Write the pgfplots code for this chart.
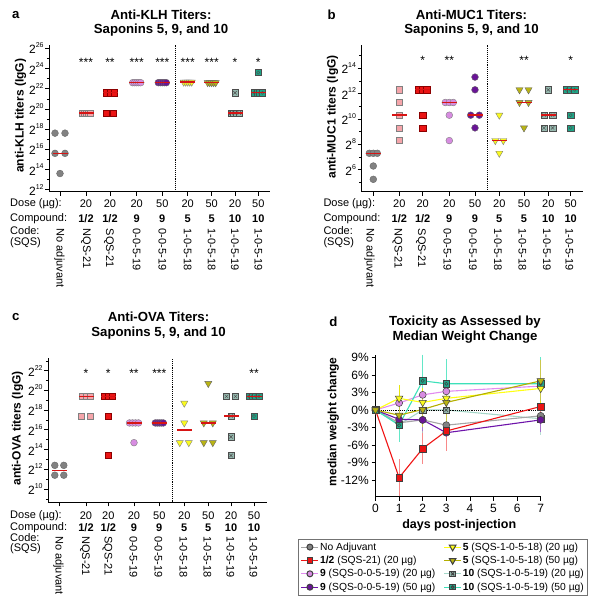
\documentclass[border=0pt]{standalone}
\usepackage{fontspec}
\setmainfont{Liberation Sans}
\usepackage{pgfplots}
\pgfplotsset{compat=1.18}

\definecolor{cGray}{RGB}{130,130,130}
\definecolor{cPink}{RGB}{245,165,170}
\definecolor{cRed}{RGB}{235,20,20}
\definecolor{cViolet}{RGB}{215,140,225}
\definecolor{cPurple}{RGB}{105,20,150}
\definecolor{cYellow}{RGB}{250,250,30}
\definecolor{cOlive}{RGB}{185,180,20}
\definecolor{cTealGray}{RGB}{150,185,175}
\definecolor{cTeal}{RGB}{30,165,135}
\definecolor{cMed}{RGB}{215,20,20}
\definecolor{lGray}{RGB}{165,165,165}
\definecolor{lRed}{RGB}{240,20,20}
\definecolor{lViolet}{RGB}{225,140,240}
\definecolor{lPurple}{RGB}{110,20,170}
\definecolor{lYellow}{RGB}{255,255,20}
\definecolor{lOlive}{RGB}{180,175,0}
\definecolor{lTealGray}{RGB}{165,215,200}
\definecolor{lTeal}{RGB}{60,225,185}

\pgfdeclareplotmark{sqx}{%
  \pgfpathrectangle{\pgfqpoint{-\pgfplotmarksize}{-\pgfplotmarksize}}{\pgfqpoint{2\pgfplotmarksize}{2\pgfplotmarksize}}%
  \pgfusepathqfillstroke
  \pgfpathmoveto{\pgfqpoint{-0.55\pgfplotmarksize}{-0.55\pgfplotmarksize}}%
  \pgfpathlineto{\pgfqpoint{0.55\pgfplotmarksize}{0.55\pgfplotmarksize}}%
  \pgfpathmoveto{\pgfqpoint{-0.55\pgfplotmarksize}{0.55\pgfplotmarksize}}%
  \pgfpathlineto{\pgfqpoint{0.55\pgfplotmarksize}{-0.55\pgfplotmarksize}}%
  \pgfusepathqstroke}
\pgfdeclareplotmark{sqo}{%
  \pgfpathrectangle{\pgfqpoint{-\pgfplotmarksize}{-\pgfplotmarksize}}{\pgfqpoint{2\pgfplotmarksize}{2\pgfplotmarksize}}%
  \pgfusepathqfillstroke
  \pgfpathcircle{\pgfpointorigin}{0.5\pgfplotmarksize}%
  \pgfusepathqstroke}

\newcommand{\pw}[1]{2\raisebox{0.52em}{\fontsize{7}{7}\selectfont #1}}

\pgfplotsset{
  panel/.style={
    scale only axis, clip=false, anchor=south west,
    axis lines*=left,
    axis line style={line width=0.9pt},
    tick align=outside,
    major tick length=4pt, minor tick length=2.5pt,
    every tick/.append style={line width=0.8pt, black},
    every minor tick/.append style={line width=0.6pt},
    ticklabel style={font=\fontsize{12}{12}\selectfont},
    yticklabel style={inner sep=1.5pt},
    xticklabels={},
  },
  mG/.style={only marks, mark=*, mark size=3.4pt, mark options={fill=cGray, draw=black!60, line width=0.4pt}},
  mPk/.style={only marks, mark=square*, mark size=3.1pt, mark options={fill=cPink, draw=black!50, line width=0.4pt}},
  mR/.style={only marks, mark=square*, mark size=3.1pt, mark options={fill=cRed, draw=red!55!black, line width=0.4pt}},
  mV/.style={only marks, mark=*, mark size=3.4pt, mark options={fill=cViolet, draw=black!50, line width=0.4pt}},
  mP/.style={only marks, mark=*, mark size=3.4pt, mark options={fill=cPurple, draw=black!60, line width=0.4pt}},
  mY/.style={only marks, mark=triangle*, mark size=4.1pt, mark options={rotate=180, fill=cYellow, draw=black!50, line width=0.4pt}},
  mO/.style={only marks, mark=triangle*, mark size=4.1pt, mark options={rotate=180, fill=cOlive, draw=black!60, line width=0.4pt}},
  mTX/.style={only marks, mark=sqx, mark size=3.1pt, mark options={fill=cTealGray, draw=black!70, line width=0.4pt}},
  mTO/.style={only marks, mark=sqo, mark size=3.1pt, mark options={fill=cTeal, draw=black!70, line width=0.4pt}},
  med/.style={only marks, mark=-, mark size=7.5pt, mark options={draw=cMed, line width=1.4pt}},
  ebar/.style={error bars/.cd, y dir=both, y explicit,
    error bar style={#1, line width=0.6pt},
    error mark options={#1, mark size=3pt, line width=0.6pt}},
}
\tikzset{
  fR/.style={font=\fontsize{11}{12}\selectfont, inner sep=0pt},
  fB/.style={font=\bfseries\fontsize{11}{12}\selectfont, inner sep=0pt},
  fC/.style={font=\fontsize{11}{12}\selectfont, inner sep=0pt, rotate=-90, anchor=west},
  fT/.style={font=\bfseries\fontsize{13.2}{15}\selectfont, inner sep=0pt},
  fY/.style={font=\bfseries\fontsize{12}{14}\selectfont, inner sep=0pt, rotate=90},
  stx/.style={font=\fontsize{12}{12}\selectfont, inner sep=0pt},
}

\begin{document}
\begin{tikzpicture}
\useasboundingbox (0,0) rectangle (601pt,-608pt);

% ---------------- Panel a ----------------
\begin{axis}[panel, at={(49.3pt,-191.7pt)}, width=220.7pt, height=146.7pt,
  xmin=49.3, xmax=270, ymin=11.8, ymax=26.33,
  xtick={60,86,110,136.7,162.3,187.7,211.7,235,258.3},
  ytick={12,14,...,26}, minor ytick={13,15,...,25},
  yticklabels={\pw{12},\pw{14},\pw{16},\pw{18},\pw{20},\pw{22},\pw{24},\pw{26}}]
\addplot[mG] coordinates {(55,17.6)(65,17.6)(55,15.6)(65,15.6)(60,13.6)};
\addplot[mPk] coordinates {(82,19.6)(84,19.6)(86,19.6)(88,19.6)(90,19.6)};
\addplot[mR] coordinates {(106,21.6)(110,21.6)(114,21.6)(106,19.6)(113.5,19.6)};
\addplot[mV] coordinates {(132.7,22.6)(134.7,22.6)(136.7,22.6)(138.7,22.6)(140.7,22.6)};
\addplot[mP] coordinates {(158.3,22.6)(160.3,22.6)(162.3,22.6)(164.3,22.6)(166.3,22.6)};
\addplot[mY] coordinates {(183.7,22.65)(185.7,22.65)(187.7,22.65)(189.7,22.65)(191.7,22.65)};
\addplot[mO] coordinates {(207.7,22.6)(209.7,22.6)(211.7,22.6)(213.7,22.6)(215.7,22.6)};
\addplot[mTX] coordinates {(230.8,19.6)(233.6,19.6)(236.4,19.6)(239.2,19.6)(235,21.6)};
\addplot[mTO] coordinates {(254.1,21.6)(256.9,21.6)(259.7,21.6)(262.5,21.6)(258.3,23.6)};
\addplot[med] coordinates {(60,15.6)(86,19.6)(110,21.6)(136.7,22.6)(162.3,22.6)(187.7,22.65)(211.7,22.6)(235,19.6)(258.3,21.6)};
\draw[densely dotted, line width=0.9pt] (axis cs:175.7,11.8) -- (axis cs:175.7,26.33);
\node[stx] at (axis cs:86,24.6) {***};
\node[stx] at (axis cs:110,24.6) {**};
\node[stx] at (axis cs:136.7,24.6) {***};
\node[stx] at (axis cs:162.3,24.6) {***};
\node[stx] at (axis cs:187.7,24.6) {***};
\node[stx] at (axis cs:211.7,24.6) {***};
\node[stx] at (axis cs:235,24.6) {*};
\node[stx] at (axis cs:258.3,24.6) {*};
\end{axis}

% ---------------- Panel b ----------------
\begin{axis}[panel, at={(361.7pt,-191.7pt)}, width=221.3pt, height=146.7pt,
  xmin=361.7, xmax=583, ymin=4.276, ymax=15.827,
  xtick={373.3,399.3,422.7,449.3,475,499.3,524,548.3,570.7},
  ytick={6,8,...,14}, minor ytick={5,7,...,15},
  yticklabels={\pw{6},\pw{8},\pw{10},\pw{12},\pw{14}}]
\addplot[mG] coordinates {(369.3,7.3)(373.3,7.3)(377.3,7.3)(373.3,6.3)(373.3,5.25)};
\addplot[mPk] coordinates {(399.3,12.3)(399.3,11.3)(399.3,10.3)(399.3,9.3)(399.3,8.3)};
\addplot[mR] coordinates {(418.7,12.3)(422.7,12.3)(426.7,12.3)(422.7,10.3)(422.7,9.3)};
\addplot[mV] coordinates {(445.3,11.3)(449.3,11.3)(453.3,11.3)(449.3,10.3)(449.3,8.3)};
\addplot[mP] coordinates {(475,13.3)(475,12.3)(470.7,10.3)(479.3,10.3)(475,9.3)};
\addplot[mY] coordinates {(499.3,10.3)(495.3,8.3)(503.3,8.3)(499.3,7.3)};
\addplot[mO] coordinates {(519.5,12.3)(528.5,12.3)(519.5,11.3)(528.5,11.3)(524,9.3)};
\addplot[mTX] coordinates {(548.3,12.3)(544,10.3)(552.6,10.3)(544,9.3)(552.6,9.3)};
\addplot[mTO] coordinates {(566.7,12.3)(570.7,12.3)(574.7,12.3)(570.7,10.3)(570.7,9.3)};
\addplot[med] coordinates {(373.3,7.3)(399.3,10.3)(422.7,12.3)(449.3,11.3)(475,10.3)(499.3,8.3)(524,11.3)(548.3,10.3)(570.7,12.3)};
\draw[densely dotted, line width=0.9pt] (axis cs:487.7,4.276) -- (axis cs:487.7,15.827);
\node[stx] at (axis cs:422.7,14.58) {*};
\node[stx] at (axis cs:449.3,14.58) {**};
\node[stx] at (axis cs:524,14.58) {**};
\node[stx] at (axis cs:570.7,14.58) {*};
\end{axis}

% ---------------- Panel c ----------------
\begin{axis}[panel, at={(48.3pt,-502.3pt)}, width=218.4pt, height=144pt,
  xmin=48.3, xmax=266.7, ymin=8.651, ymax=23.255,
  xtick={59.3,86,108.3,134,159.3,184.3,208.3,231,254},
  ytick={10,12,...,22}, minor ytick={9,11,...,23},
  yticklabels={\pw{10},\pw{12},\pw{14},\pw{16},\pw{18},\pw{20},\pw{22}}]
\addplot[mG] coordinates {(54.8,12.4)(63.8,12.4)(54.8,11.4)(63.8,11.4)};
\addplot[mPk] coordinates {(82,19.4)(86,19.4)(90,19.4)(81.5,17.4)(90.5,17.4)};
\addplot[mR] coordinates {(104.3,19.4)(108.3,19.4)(112.3,19.4)(108.3,17.4)(108.3,13.4)};
\addplot[mV] coordinates {(129.5,16.7)(132.5,16.7)(135.5,16.7)(138.5,16.7)(134,14.7)};
\addplot[mP] coordinates {(155.3,16.7)(157.3,16.7)(159.3,16.7)(161.3,16.7)(163.3,16.7)};
\addplot[mY] coordinates {(184.3,18.7)(184.3,16.7)(179.8,14.7)(188.8,14.7)};
\addplot[mO] coordinates {(208.3,20.7)(203.8,16.7)(212.8,16.7)(203.8,14.7)(212.8,14.7)};
\addplot[mTX] coordinates {(226.5,19.4)(235.5,19.4)(231,17.4)(231,15.3)(231,13.4)};
\addplot[mTO] coordinates {(249,19.4)(252.3,19.4)(255.7,19.4)(259,19.4)(254,17.4)};
\addplot[med] coordinates {(59.3,11.9)(86,19.4)(108.3,19.4)(134,16.7)(159.3,16.7)(184.3,16.0)(208.3,16.7)(231,17.4)(254,19.4)};
\draw[densely dotted, line width=0.9pt] (axis cs:172.3,8.651) -- (axis cs:172.3,23.255);
\node[stx] at (axis cs:86,21.75) {*};
\node[stx] at (axis cs:108.3,21.75) {*};
\node[stx] at (axis cs:134,21.75) {**};
\node[stx] at (axis cs:159.3,21.75) {***};
\node[stx] at (axis cs:254,21.75) {**};
\end{axis}

% ---------------- Panel d ----------------
\begin{axis}[panel, at={(375.5pt,-496.7pt)}, width=165.2pt, height=142.1pt,
  xmin=0, xmax=7, ymin=-14.87, ymax=9.5,
  xtick={0,1,2,3,4,5,6,7}, xticklabels={0,1,2,3,4,5,6,7},
  ytick={-12,-9,-6,-3,0,3,6,9},
  yticklabels={-12\%,-9\%,-6\%,-3\%,0\%,3\%,6\%,9\%},
  yticklabel style={inner sep=2.5pt},
  legend columns=2, legend cell align=left,
  legend style={at={(-0.469,-0.298)}, anchor=north west, draw=black!55, line width=0.7pt,
    font=\fontsize{10.3}{11}\selectfont, inner xsep=2.5pt, inner ysep=2pt, row sep=2pt,
    nodes={inner sep=1.2pt}, /tikz/every even column/.append style={column sep=7pt}}]
\addplot[forget plot, lTealGray, line width=1.1pt, mark=sqx, mark size=3.2pt, mark options={solid, fill=cTealGray, draw=black!75, line width=0.5pt}, ebar=lTealGray!80]
  coordinates {(0,0) +- (0,0) (1,-2.5) +- (0,2.3) (2,0.0) +- (0,2.0) (3,0.0) +- (0,2.5) (7,-1.5) +- (0,2.2)};
\addplot[forget plot, black, densely dotted, line width=0.9pt] coordinates {(0,0)(7,0)};
\addplot[forget plot, lGray, line width=1.1pt, mark=*, mark size=3.5pt, mark options={solid, fill=cGray, draw=black!75, line width=0.5pt}, ebar=lGray!80]
  coordinates {(0,0) +- (0,0) (1,-2.2) +- (0,1.5) (2,-1.7) +- (0,2.2) (3,-2.6) +- (0,1.8) (7,-1.0) +- (0,1.6)};
\addplot[forget plot, lPurple, line width=1.1pt, mark=*, mark size=3.5pt, mark options={solid, fill=cPurple, draw=black!75, line width=0.5pt}, ebar=lPurple!60]
  coordinates {(0,0) +- (0,0) (1,-1.6) +- (0,1.4) (2,-1.7) +- (0,1.4) (3,-3.9) +- (0,1.3) (7,-1.7) +- (0,1.5)};
\addplot[forget plot, lViolet, line width=1.1pt, mark=*, mark size=3.5pt, mark options={solid, fill=cViolet, draw=black!75, line width=0.5pt}, ebar=lViolet!70]
  coordinates {(0,0) +- (0,0) (1,1.2) +- (0,1.6) (2,2.6) +- (0,2.0) (3,3.2) +- (0,3.0) (7,4.1) +- (0,3.0)};
\addplot[forget plot, lRed, line width=1.1pt, mark=square*, mark size=3.3pt, mark options={solid, fill=cRed, draw=black!75, line width=0.5pt}, ebar=lRed!50]
  coordinates {(0,0) +- (0,0) (1,-11.6) +- (0,2.6) (2,-6.6) +- (0,2.1) (3,-3.6) +- (0,2.9) (7,0.6) +- (0,2.0)};
\addplot[forget plot, lTeal, line width=1.1pt, mark=sqo, mark size=3.2pt, mark options={solid, fill=cTeal, draw=black!75, line width=0.5pt}, ebar=lTeal!80]
  coordinates {(0,0) +- (0,0) (1,-2.6) +- (0,2.3) (2,5.0) +- (0,4.0) (3,4.5) +- (0,3.7) (7,4.5) +- (0,4.0)};
\addplot[forget plot, lYellow, line width=1.1pt, mark=triangle*, mark size=4.3pt, mark options={solid, rotate=180, fill=cYellow, draw=black!75, line width=0.5pt}, ebar=lYellow!90!black]
  coordinates {(0,0) +- (0,0) (1,2.0) +- (0,1.7) (2,1.3) +- (0,2.0) (3,2.0) +- (0,2.6) (7,3.7) +- (0,2.6)};
\addplot[forget plot, lOlive, line width=1.1pt, mark=triangle*, mark size=4.3pt, mark options={solid, rotate=180, fill=cOlive, draw=black!75, line width=0.5pt}, ebar=lOlive!70]
  coordinates {(0,0) +- (0,0) (1,-0.9) +- (0,1.6) (2,0.1) +- (0,2.5) (3,1.3) +- (0,3.2) (7,5.0) +- (0,3.0)};

\addlegendimage{lGray, line width=1pt, mark=*, mark size=3pt, mark options={solid, fill=cGray, draw=black!75}}
\addlegendentry{No Adjuvant}
\addlegendimage{lYellow, line width=1pt, mark=triangle*, mark size=3.8pt, mark options={solid, rotate=180, fill=cYellow, draw=black!75}}
\addlegendentry{\textbf{5} (SQS-1-0-5-18) (20 µg)}
\addlegendimage{lRed, line width=1pt, mark=square*, mark size=2.8pt, mark options={solid, fill=cRed, draw=black!75}}
\addlegendentry{\textbf{1/2} (SQS-21) (20 µg)}
\addlegendimage{lOlive, line width=1pt, mark=triangle*, mark size=3.8pt, mark options={solid, rotate=180, fill=cOlive, draw=black!75}}
\addlegendentry{\textbf{5} (SQS-1-0-5-18) (50 µg)}
\addlegendimage{lViolet, line width=1pt, mark=*, mark size=3pt, mark options={solid, fill=cViolet, draw=black!75}}
\addlegendentry{\textbf{9} (SQS-0-0-5-19) (20 µg)}
\addlegendimage{lTealGray, line width=1pt, mark=sqx, mark size=2.8pt, mark options={solid, fill=cTealGray, draw=black!75}}
\addlegendentry{\textbf{10} (SQS-1-0-5-19) (20 µg)}
\addlegendimage{lPurple, line width=1pt, mark=*, mark size=3pt, mark options={solid, fill=cPurple, draw=black!75}}
\addlegendentry{\textbf{9} (SQS-0-0-5-19) (50 µg)}
\addlegendimage{lTeal, line width=1pt, mark=sqo, mark size=2.8pt, mark options={solid, fill=cTeal, draw=black!75}}
\addlegendentry{\textbf{10} (SQS-1-0-5-19) (50 µg)}
\end{axis}

% ---------------- Texts ----------------
% panel a
\node[fT] at (15.7pt,-15pt) {a};
\node[fT] at (161pt,-15pt) {Anti-KLH Titers:};
\node[fT] at (161pt,-30pt) {Saponins 5, 9, and 10};
\node[fY] at (20.5pt,-115.8pt) {anti-KLH titers (IgG)};
\node[fR, anchor=west] at (10pt,-204pt) {Dose (µg):};
\node[fR, anchor=west] at (10pt,-219pt) {Compound:};
\node[fR, anchor=west] at (10pt,-230.5pt) {Code:};
\node[fR, anchor=west] at (10pt,-242.5pt) {(SQS)};
\foreach \x/\t in {86/20,110/20,136.7/20,162.3/50,187.7/20,211.7/50,235/20,258.3/50}
  \node[fR] at (\x pt,-204pt) {\t};
\foreach \x/\t in {86/1\slash 2,110/1\slash 2,136.7/9,162.3/9,187.7/5,211.7/5,235/10,258.3/10}
  \node[fB] at (\x pt,-219pt) {\t};
\foreach \x/\t in {59.5/No adjuvant,86/NQS-21,109/SQS-21,136.7/0-0-5-19,162.3/0-0-5-19,187.7/1-0-5-18,211.7/1-0-5-18,235/1-0-5-19,258.3/1-0-5-19}
  \node[fC] at (\x pt,-228.5pt) {\t};

% panel b
\node[fT] at (331.7pt,-15pt) {b};
\node[fT] at (471.5pt,-15pt) {Anti-MUC1 Titers:};
\node[fT] at (471.5pt,-30pt) {Saponins 5, 9, and 10};
\node[fY] at (332.5pt,-116.7pt) {anti-MUC1 titers (IgG)};
\node[fR, anchor=west] at (323.3pt,-204pt) {Dose (µg):};
\node[fR, anchor=west] at (323.3pt,-219pt) {Compound:};
\node[fR, anchor=west] at (323.3pt,-230.5pt) {Code:};
\node[fR, anchor=west] at (323.3pt,-242.5pt) {(SQS)};
\foreach \x/\t in {399.3/20,422.7/20,449.3/20,475/50,499.3/20,524/50,548.3/20,570.7/50}
  \node[fR] at (\x pt,-204pt) {\t};
\foreach \x/\t in {399.3/1\slash 2,422.7/1\slash 2,449.3/9,475/9,499.3/5,524/5,548.3/10,570.7/10}
  \node[fB] at (\x pt,-219pt) {\t};
\foreach \x/\t in {369.5/No adjuvant,397.5/NQS-21,421/SQS-21,447.3/0-0-5-19,473/0-0-5-19,498/1-0-5-18,522.5/1-0-5-18,547/1-0-5-19,569.5/1-0-5-19}
  \node[fC] at (\x pt,-228.5pt) {\t};

% panel c
\node[fT] at (15.7pt,-317pt) {c};
\node[fT] at (158.5pt,-316.7pt) {Anti-OVA Titers:};
\node[fT] at (158.5pt,-333.3pt) {Saponins 5, 9, and 10};
\node[fY] at (17.5pt,-428.3pt) {anti-OVA titers (IgG)};
\node[fR, anchor=west] at (10pt,-515.5pt) {Dose (µg):};
\node[fR, anchor=west] at (10pt,-527.5pt) {Compound:};
\node[fR, anchor=west] at (10pt,-537.5pt) {Code:};
\node[fR, anchor=west] at (10pt,-548.5pt) {(SQS)};
\foreach \x/\t in {86/20,108.3/20,134/20,159.3/50,184.3/20,208.3/50,231/20,254/50}
  \node[fR] at (\x pt,-515.5pt) {\t};
\foreach \x/\t in {86/1\slash 2,108.3/1\slash 2,134/9,159.3/9,184.3/5,208.3/5,231/10,254/10}
  \node[fB] at (\x pt,-527.5pt) {\t};
\foreach \x/\t in {58.5/No adjuvant,85/NQS-21,107.5/SQS-21,133.5/0-0-5-19,158.5/0-0-5-19,183.5/1-0-5-18,207.5/1-0-5-18,230.5/1-0-5-19,253.5/1-0-5-19}
  \node[fC] at (\x pt,-536pt) {\t};

% panel d
\node[fT] at (333.3pt,-321.7pt) {d};
\node[fT] at (465pt,-321.7pt) {Toxicity as Assessed by};
\node[fT] at (465pt,-336.7pt) {Median Weight Change};
\node[fY] at (333.3pt,-421.7pt) {median weight change};
\node[font=\bfseries\fontsize{12.5}{14}\selectfont, inner sep=0pt] at (459.2pt,-525pt) {days post-injection};
\end{tikzpicture}
\end{document}
